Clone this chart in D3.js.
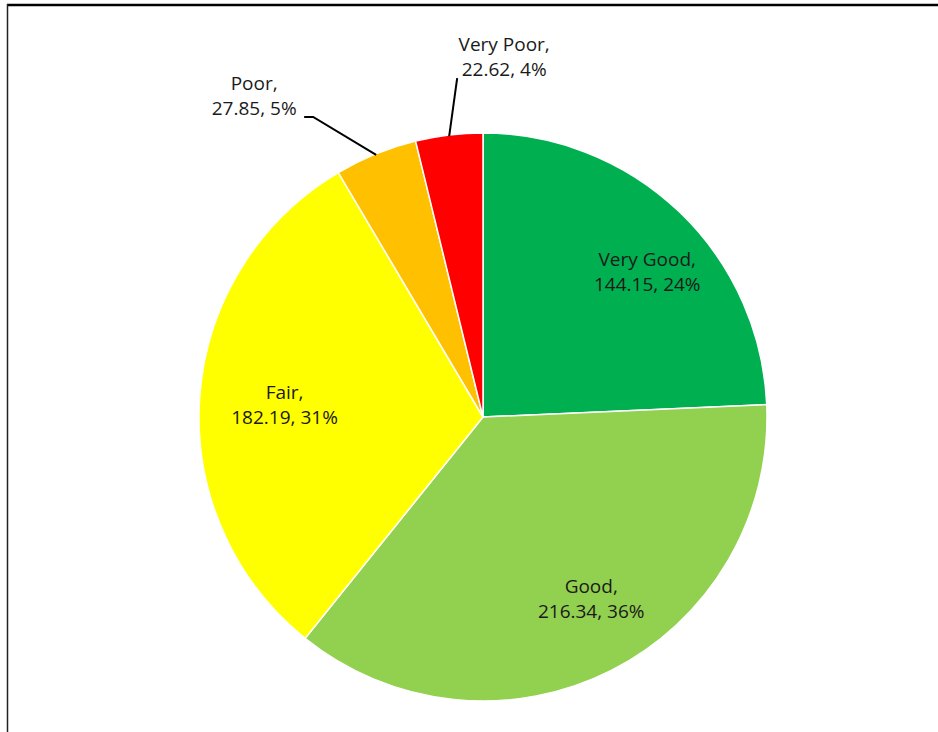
<!DOCTYPE html>
<html>
<head>
<meta charset="utf-8">
<script src="https://cdn.jsdelivr.net/npm/d3@7.9.0/dist/d3.min.js"></script>
<style>
  body { margin: 0; background: #fff; }
  svg { display: block; }
  .lbl { font-family: "Open Sans", sans-serif; font-size: 19px; fill: #1a1a1a; }
</style>
</head>
<body>
<svg id="chart" width="938" height="732"></svg>
<script>
// data
const categories = ['Very Good', 'Good', 'Fair', 'Poor', 'Very Poor'];
const values = [144.15, 216.34, 182.19, 27.85, 22.62];
const percentLabels = ['24%', '36%', '31%', '5%', '4%'];
const colors = ['#00b050', '#92d050', '#ffff00', '#ffc000', '#ff0000'];

const width = 938, height = 732;
const cx = 483, cy = 417, radius = 284;

const svg = d3.select('#chart');

// frame (top + left edges visible)
svg.append('line').attr('x1', 7).attr('x2', 938).attr('y1', 5).attr('y2', 5)
  .attr('stroke', '#000').attr('stroke-width', 2.5);
svg.append('line').attr('x1', 7.5).attr('x2', 7.5).attr('y1', 4).attr('y2', height)
  .attr('stroke', '#222').attr('stroke-width', 1.5);

const data = categories.map((c, i) => ({ label: c, value: values[i], pct: percentLabels[i], color: colors[i] }));

const pie = d3.pie().value((d) => d.value).sort(null);
const arc = d3.arc().innerRadius(0).outerRadius(radius);
const labelArc = d3.arc().innerRadius(radius * 0.75).outerRadius(radius * 0.75);
const edgeArc = d3.arc().innerRadius(radius - 1).outerRadius(radius - 1);

const g = svg.append('g').attr('transform', `translate(${cx},${cy})`);
const arcs = pie(data);

g.selectAll('path')
  .data(arcs)
  .join('path')
  .attr('d', arc)
  .attr('fill', (d) => d.data.color)
  .attr('stroke', '#fff')
  .attr('stroke-width', 1.5);

// label placement tweaks (inside labels: nudge from centroid; outside: offsets from slice edge)
const inside = { 'Very Good': [17, 9], 'Good': [12, -8], 'Fair': [14, 4] };
const outside = {
  'Poor': { text: [-122, -65], leader: [[-72, -38], [-63, -38], [0, 0]] },
  'Very Poor': { text: [55, -85], leader: [[8, -58], [0, 0]] }
};

const lineGap = 25;

arcs.forEach((d) => {
  const name = d.data.label;
  let tx, ty;
  if (inside[name]) {
    const [x, y] = labelArc.centroid(d);
    tx = x + inside[name][0];
    ty = y + inside[name][1] - lineGap / 2 + 6;
  } else {
    const [ex, ey] = edgeArc.centroid(d);
    const o = outside[name];
    tx = ex + o.text[0];
    ty = ey + o.text[1];
    g.append('path')
      .attr('d', d3.line()(o.leader.map(([dx, dy]) => [ex + dx, ey + dy])))
      .attr('fill', 'none')
      .attr('stroke', '#000')
      .attr('stroke-width', 2);
  }
  const t = g.append('text').attr('class', 'lbl').attr('text-anchor', 'middle');
  t.append('tspan').attr('x', tx).attr('y', ty).text(`${name},`);
  t.append('tspan').attr('x', tx).attr('y', ty + lineGap).text(`${d3.format('.2f')(d.data.value)}, ${d.data.pct}`);
});
</script>
</body>
</html>
